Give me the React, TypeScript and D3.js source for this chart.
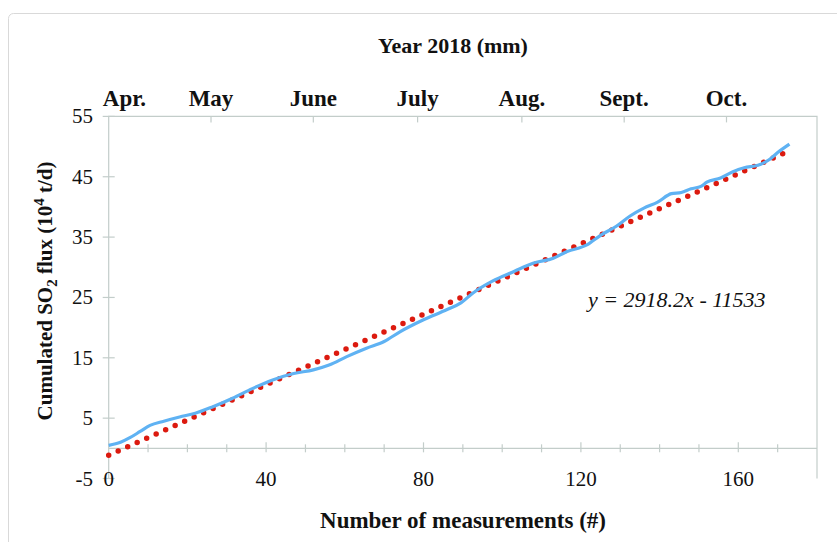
import { useEffect, useRef } from 'react';
import * as d3 from 'd3';

// cumulated SO2 flux
const measurements = [0, 3, 5.5, 8, 10.5, 14, 18, 22, 26.5, 31.5, 36.5, 41.5, 47, 52, 56, 60.5, 65.5, 70, 74, 80, 86, 89.5, 92.5, 97.5, 103, 108, 113, 116.5, 121.5, 125, 129, 132.5, 136, 139.5, 143, 145.5, 148, 150.5, 152, 155.5, 158.5, 161.5, 165, 168, 170, 173];
const cumFlux = [0.5, 1.0, 1.8, 2.8, 3.8, 4.5, 5.2, 5.8, 6.9, 8.3, 9.9, 11.3, 12.4, 13.0, 13.8, 15.2, 16.6, 17.7, 19.3, 21.3, 23.0, 24.1, 25.7, 27.7, 29.3, 30.7, 31.5, 32.6, 33.7, 35.3, 36.8, 38.5, 39.8, 40.8, 42.2, 42.4, 43.0, 43.4, 44.1, 44.8, 45.8, 46.5, 46.9, 47.9, 49.0, 50.4];

// linear fit y = 2918.2x - 11533 (t/d), in 10^4 t/d
const trendSlope = 2918.2 / 10000;
const trendIntercept = -11533 / 10000;

const months = ['Apr.', 'May', 'June', 'July', 'Aug.', 'Sept.', 'Oct.'];
const monthPos = [4, 26, 52, 78.5, 105, 131, 157];

const xTicks = [0, 10, 20, 30, 40, 50, 60, 70, 80, 90, 100, 110, 120, 130, 140, 150, 160, 170];
const xLabels = [0, 40, 80, 120, 160];
const yTicks = [-5, 5, 15, 25, 35, 45, 55];

const App: React.FC = () => {
  const svgRef = useRef<SVGSVGElement | null>(null);

  useEffect(() => {
    if (!svgRef.current) return;
    const svg = d3.select(svgRef.current);
    svg.selectAll('*').remove();

    const axisColor = '#c3cdca';
    const font = "'Liberation Serif', 'Times New Roman', serif";

    const x = d3.scaleLinear().domain([0, 180]).range([108.7, 817]);
    const y = d3.scaleLinear().domain([-5, 55]).range([478.5, 116.4]);

    // outer frame
    svg.append('rect')
      .attr('x', 8.5).attr('y', 13.5)
      .attr('width', 850).attr('height', 560)
      .attr('rx', 5)
      .attr('fill', 'none')
      .attr('stroke', '#d9d9d9');

    // plot box: left, top, right
    svg.append('path')
      .attr('d', `M${x(0)},${y(-5)}V${y(55)}H${x(180)}V${y(-5)}`)
      .attr('fill', 'none')
      .attr('stroke', axisColor)
      .attr('stroke-width', 1.2);

    // x axis at zero
    svg.append('line')
      .attr('x1', x(0)).attr('x2', x(180))
      .attr('y1', y(0)).attr('y2', y(0))
      .attr('stroke', axisColor)
      .attr('stroke-width', 1.2);

    svg.append('g').selectAll('line')
      .data(xTicks.filter(d => d > 0))
      .join('line')
      .attr('x1', d => x(d)).attr('x2', d => x(d))
      .attr('y1', d => y(0) - (d % 40 === 0 ? 6 : 4))
      .attr('y2', y(0) + 4)
      .attr('stroke', axisColor)
      .attr('stroke-width', 1.2);

    svg.append('g').selectAll('line')
      .data(yTicks)
      .join('line')
      .attr('x1', x(0) - 6).attr('x2', x(0) + 6)
      .attr('y1', d => y(d)).attr('y2', d => y(d))
      .attr('stroke', axisColor)
      .attr('stroke-width', 1.2);

    // month ticks on top
    svg.append('g').selectAll('line')
      .data(monthPos.slice(1))
      .join('line')
      .attr('x1', d => x(d)).attr('x2', d => x(d))
      .attr('y1', y(55)).attr('y2', y(55) + 6)
      .attr('stroke', axisColor)
      .attr('stroke-width', 1.2);

    // tick labels
    svg.append('g')
      .attr('font-family', font).attr('font-size', 21).attr('fill', '#111')
      .attr('text-anchor', 'end')
      .selectAll('text')
      .data(yTicks)
      .join('text')
      .attr('x', 93)
      .attr('y', d => y(d) + 7)
      .text(d => (d < 0 ? '-' + Math.abs(d) : String(d)));

    svg.append('g')
      .attr('font-family', font).attr('font-size', 21).attr('fill', '#111')
      .attr('text-anchor', 'middle')
      .selectAll('text')
      .data(xLabels)
      .join('text')
      .attr('x', d => x(d))
      .attr('y', y(-5) + 7)
      .text(d => String(d));

    svg.append('g')
      .attr('font-family', font).attr('font-size', 23).attr('font-weight', 'bold').attr('fill', '#111')
      .attr('text-anchor', 'middle')
      .selectAll('text')
      .data(months)
      .join('text')
      .attr('x', (d, i) => x(monthPos[i]))
      .attr('y', 106)
      .text(d => d);

    // titles
    svg.append('text')
      .attr('x', 453).attr('y', 53)
      .attr('text-anchor', 'middle')
      .attr('font-family', font).attr('font-size', 22).attr('font-weight', 'bold').attr('fill', '#111')
      .text('Year 2018 (mm)');

    svg.append('text')
      .attr('x', 463).attr('y', 528)
      .attr('text-anchor', 'middle')
      .attr('font-family', font).attr('font-size', 23).attr('font-weight', 'bold').attr('fill', '#111')
      .text('Number of measurements (#)');

    const yTitle = svg.append('text')
      .attr('transform', 'translate(52,291) rotate(-90)')
      .attr('text-anchor', 'middle')
      .attr('font-family', font).attr('font-size', 21).attr('font-weight', 'bold').attr('fill', '#111');
    yTitle.append('tspan').text('Cumulated SO');
    yTitle.append('tspan').attr('font-size', 15).attr('dy', 5).text('2');
    yTitle.append('tspan').attr('dy', -5).text(' flux (10');
    yTitle.append('tspan').attr('font-size', 15).attr('dy', -8).text('4');
    yTitle.append('tspan').attr('dy', 8).text(' t/d)');

    // equation
    svg.append('text')
      .attr('x', 588).attr('y', 307)
      .attr('font-family', font).attr('font-size', 22).attr('font-style', 'italic').attr('fill', '#111')
      .text('y = 2918.2x - 11533');

    // trend line (dotted)
    const xEnd = measurements[measurements.length - 1];
    svg.append('line')
      .attr('x1', x(0)).attr('y1', y(trendIntercept))
      .attr('x2', x(xEnd)).attr('y2', y(trendSlope * xEnd + trendIntercept))
      .attr('stroke', '#dc1a0f')
      .attr('stroke-width', 5.5)
      .attr('stroke-linecap', 'round')
      .attr('stroke-dasharray', '0 10.4');

    // measured curve
    const line = d3.line<number>()
      .x((d, i) => x(measurements[i]))
      .y(d => y(d))
      .curve(d3.curveMonotoneX);

    svg.append('path')
      .datum(cumFlux)
      .attr('d', line)
      .attr('fill', 'none')
      .attr('stroke', '#5fb2f3')
      .attr('stroke-width', 3.2)
      .attr('stroke-linejoin', 'round');
  }, []);

  return (
    <svg ref={svgRef} width="837" height="542" style={{ position: 'absolute', left: 0, top: 0 }}></svg>
  );
};

export default App;
